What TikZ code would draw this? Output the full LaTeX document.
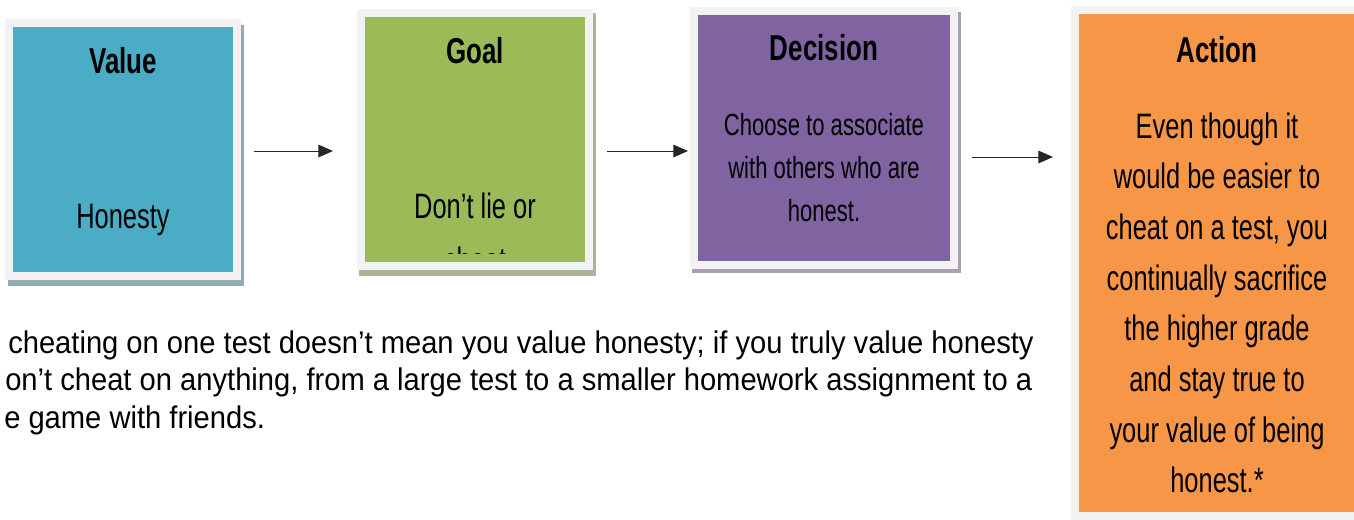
\documentclass[tikz,border=0pt]{standalone}
\usepackage{fontspec}
\usepackage{tikz}
\usetikzlibrary{arrows.meta}

\newfontfamily\agency[FakeStretch=0.72]{Liberation Sans}
\newfontfamily\notefont[FakeStretch=0.93]{Liberation Sans}

\definecolor{valueblue}{RGB}{75,172,198}
\definecolor{goalgreen}{RGB}{155,187,89}
\definecolor{decpurple}{RGB}{128,100,162}
\definecolor{actorange}{RGB}{247,150,70}
\definecolor{framegray}{RGB}{242,242,242}
\definecolor{valueshade}{RGB}{146,170,178}
\definecolor{goalshade}{RGB}{168,181,150}
\definecolor{decshade}{RGB}{166,161,176}

\tikzset{
  card/.style={rectangle, draw=framegray, line width=6pt, inner sep=0pt},
  cardtitle/.style={anchor=base, inner sep=0.75pt, font=\agency\bfseries\fontsize{27}{30}\selectfont},
  cardtext/.style={anchor=base, inner sep=0.75pt, font=\agency\fontsize{26.5}{30}\selectfont},
  dectext/.style={anchor=base, inner sep=0.75pt, font=\agency\fontsize{23}{27}\selectfont},
  note/.style={anchor=base west, inner sep=0pt, font=\notefont\fontsize{23.5}{28}\selectfont},
  flow/.style={draw=black!85, line width=0.75pt, -{Triangle[length=11pt,width=9.5pt]}}
}

\begin{document}
\begin{tikzpicture}[x=0.75pt,y=0.75pt,yscale=-1]

\clip (0,0) rectangle (1354,519);

%Shadows
\fill[valueshade] (8,25) rectangle (244,286);
\fill[goalshade] (359,13) rectangle (596,276);
\fill[decshade] (692,12) rectangle (961,273);

%Shape: Rectangle
\node[card, fill=valueblue, minimum width=171pt, minimum height=189.75pt] (value) at (123,149.5) {};
%Shape: Rectangle
\node[card, fill=goalgreen, minimum width=171pt, minimum height=189.75pt] (goal) at (475,139.5) {};
%Shape: Rectangle
\node[card, fill=decpurple, minimum width=195pt, minimum height=190.5pt] (decision) at (824,138) {};
%Shape: Rectangle
\node[card, fill=actorange, minimum width=216pt, minimum height=379.5pt] (action) at (1219,263) {};

%Straight Lines
\coordinate (a1s) at (254,151);
\coordinate (a1e) at (333,151);
\draw[flow] (a1s) -- (a1e);
%Straight Lines
\coordinate (a2s) at (607,151);
\coordinate (a2e) at (688,151);
\draw[flow] (a2s) -- (a2e);
%Straight Lines
\coordinate (a3s) at (972,157);
\coordinate (a3e) at (1053,157);
\draw[flow] (a3s) -- (a3e);

% Text Node
\node[cardtitle] (valuetitle) at (123,73) {Value};
\node[cardtext] (valuetext) at (123,228) {Honesty};
% Text Node
\node[cardtitle] (goaltitle) at (475,63) {Goal};
\node[cardtext] (goaltext1) at (475,218) {Don’t lie or};
\begin{scope}
\clip (365,17) rectangle (585,253);
\node[cardtext] (goaltext2) at (475,272) {cheat};
\end{scope}
% Text Node
\node[cardtitle] (dectitle) at (824,60) {Decision};
\foreach \txt [count=\i] in {Choose to associate, with others who are, honest.}
  \node[dectext] (dectext\i) at (824,{135+43.2*(\i-1)}) {\txt};
% Text Node
\node[cardtitle] (acttitle) at (1217,62) {Action};
\foreach \txt [count=\i] in {Even though it, would be easier to, {cheat on a test, you}, continually sacrifice, the higher grade, and stay true to, your value of being, honest.*}
  \node[cardtext] (acttext\i) at (1217,{138+50.7*(\i-1)}) {\txt};

% Text Node
\node[note] (note1) at (8,353) {cheating on one test doesn’t mean you value honesty; if you truly value honesty};
\node[note] (note2) at (5,390.5) {on’t cheat on anything, from a large test to a smaller homework assignment to a};
\node[note] (note3) at (4,428) {e game with friends.};

\end{tikzpicture}
\end{document}
